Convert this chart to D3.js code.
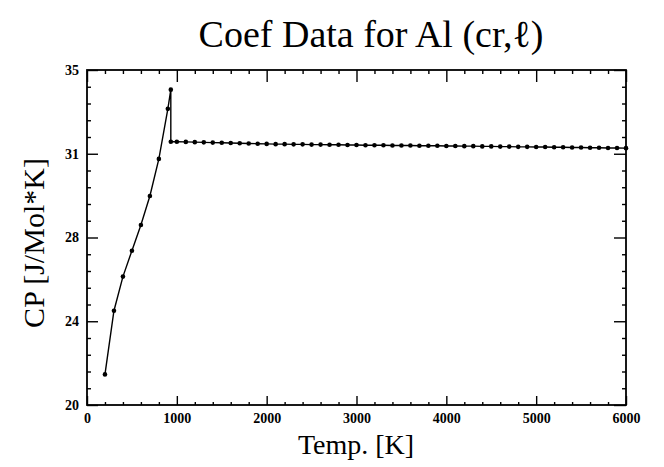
<!DOCTYPE html>
<html>
<head>
<meta charset="utf-8">
<script src="https://cdn.jsdelivr.net/npm/d3@7"></script>
<style>
  html, body { margin: 0; padding: 0; background: #fff; }
  svg { display: block; }
  text { font-family: "Liberation Serif", "DejaVu Serif", serif; fill: #000; }
</style>
</head>
<body>
<svg id="chart" width="664" height="467"></svg>
<script>
// ---- Data ----
const titleText = "Coef Data for Al (cr,\u2113)";
const xLabel = "Temp. [K]";
const yLabel = "CP [J/Mol*K]";

const temps = [200, 300, 400, 500, 600, 700, 800, 900, 933, 933,
  1000, 1100, 1200, 1300, 1400, 1500, 1600, 1700, 1800, 1900,
  2000, 2100, 2200, 2300, 2400, 2500, 2600, 2700, 2800, 2900,
  3000, 3100, 3200, 3300, 3400, 3500, 3600, 3700, 3800, 3900,
  4000, 4100, 4200, 4300, 4400, 4500, 4600, 4700, 4800, 4900,
  5000, 5100, 5200, 5300, 5400, 5500, 5600, 5700, 5800, 5900,
  6000];
const cp = [21.37, 24.22, 25.75, 26.91, 28.06, 29.36, 31.02, 33.26, 34.12, 31.79,
  31.79, 31.78, 31.77, 31.76, 31.75, 31.74, 31.73, 31.72, 31.71, 31.70,
  31.69, 31.68, 31.68, 31.67, 31.67, 31.66, 31.66, 31.65, 31.65, 31.64,
  31.64, 31.63, 31.63, 31.63, 31.62, 31.62, 31.62, 31.61, 31.61, 31.61,
  31.60, 31.60, 31.59, 31.59, 31.58, 31.58, 31.57, 31.57, 31.56, 31.56,
  31.55, 31.55, 31.54, 31.54, 31.53, 31.53, 31.52, 31.52, 31.51, 31.51,
  31.50];

const xMajorTicks = [0, 1000, 2000, 3000, 4000, 5000, 6000];
const xTickLabels = ["0", "1000", "2000", "3000", "4000", "5000", "6000"];
const yMajorTicks = [20, 23.75, 27.5, 31.25, 35];
const yTickLabels = ["20", "24", "28", "31", "35"];

// minor tick steps
const xMinorStep = 200;
const yMinorStep = 0.75;

// ---- Layout ----
const svg = d3.select("#chart");
const L = 87, R = 626, T = 70, B = 405;

const x = d3.scaleLinear().domain([0, 6000]).range([L, R]);
const y = d3.scaleLinear().domain([20, 35]).range([B, T]);

const xMinor = d3.range(0, 6000 + 1, xMinorStep).filter(v => v % 1000 !== 0);
const yMinor = d3.range(20, 35.001, yMinorStep).filter(v => !yMajorTicks.some(m => Math.abs(m - v) < 1e-6));

function styleAxis(g) {
  g.select(".domain").remove();
  g.selectAll(".tick line").attr("stroke", "#000").attr("stroke-width", 1.4);
}

// bottom axis: major ticks inward with labels
const gB = svg.append("g").attr("transform", `translate(0,${B})`)
  .call(d3.axisBottom(x).tickValues(xMajorTicks)
    .tickFormat((d, i) => xTickLabels[i]).tickSize(-9).tickPadding(8));
styleAxis(gB);
gB.selectAll(".tick text").attr("font-size", 14).attr("font-weight", "bold")
  .style("font-family", "'Liberation Serif', serif");
svg.append("g").attr("transform", `translate(0,${B})`)
  .call(d3.axisBottom(x).tickValues(xMinor).tickFormat("").tickSize(-3)).call(styleAxis);

// top axis
svg.append("g").attr("transform", `translate(0,${T})`)
  .call(d3.axisTop(x).tickValues(xMajorTicks).tickFormat("").tickSize(-12)).call(styleAxis);
svg.append("g").attr("transform", `translate(0,${T})`)
  .call(d3.axisTop(x).tickValues(xMinor).tickFormat("").tickSize(-4)).call(styleAxis);

// left axis
const gL = svg.append("g").attr("transform", `translate(${L},0)`)
  .call(d3.axisLeft(y).tickValues(yMajorTicks)
    .tickFormat((d, i) => yTickLabels[i]).tickSize(-11).tickPadding(8));
styleAxis(gL);
gL.selectAll(".tick text").attr("font-size", 14).attr("font-weight", "bold")
  .style("font-family", "'Liberation Serif', serif");
svg.append("g").attr("transform", `translate(${L},0)`)
  .call(d3.axisLeft(y).tickValues(yMinor).tickFormat("").tickSize(-4)).call(styleAxis);

// right axis
svg.append("g").attr("transform", `translate(${R},0)`)
  .call(d3.axisRight(y).tickValues(yMajorTicks).tickFormat("").tickSize(-12)).call(styleAxis);
svg.append("g").attr("transform", `translate(${R},0)`)
  .call(d3.axisRight(y).tickValues(yMinor).tickFormat("").tickSize(-4)).call(styleAxis);

// frame
svg.append("rect").attr("x", L).attr("y", T).attr("width", R - L).attr("height", B - T)
  .attr("fill", "none").attr("stroke", "#000").attr("stroke-width", 1.8);

// ---- Series ----
const pts = temps.map((t, i) => [t, cp[i]]);
svg.append("path").datum(pts)
  .attr("fill", "none").attr("stroke", "#000").attr("stroke-width", 1.4)
  .attr("d", d3.line().x(d => x(d[0])).y(d => y(d[1])));
svg.append("g").selectAll("circle").data(pts).join("circle")
  .attr("cx", d => x(d[0])).attr("cy", d => y(d[1])).attr("r", 2.3).attr("fill", "#000");

// ---- Labels ----
svg.append("text").attr("x", 371).attr("y", 47).attr("text-anchor", "middle")
  .attr("font-size", 38).text(titleText);
svg.append("text").attr("x", 356).attr("y", 454).attr("text-anchor", "middle")
  .attr("font-size", 28).text(xLabel);
svg.append("text").attr("transform", "translate(44,243) rotate(-90)")
  .attr("text-anchor", "middle").attr("font-size", 30).text(yLabel);
</script>
</body>
</html>
